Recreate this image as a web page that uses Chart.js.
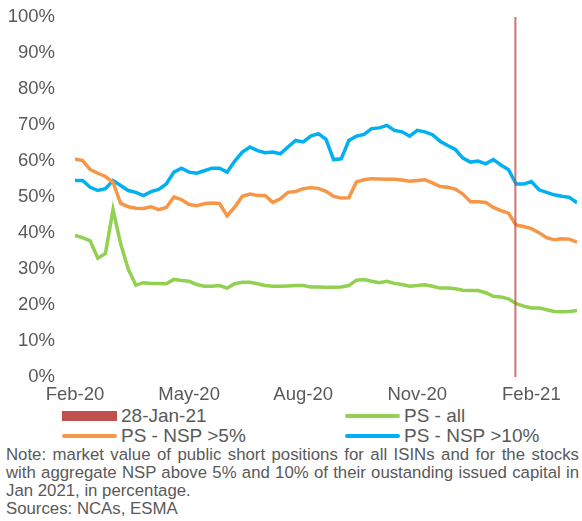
<!DOCTYPE html>
<html lang="en">

<head>
    <meta charset="UTF-8" />
    <title>Public short positions</title>
    <script src="https://cdn.jsdelivr.net/npm/chart.js"></script>

    <style>
        body {
            margin: 0;
            background: #ffffff;
            font-family: "Liberation Sans", Arial, sans-serif;
            color: #595959;
        }

        .wrap {
            width: 582px;
            height: 521px;
            overflow: hidden;
        }

        .chart-box {
            position: relative;
            width: 582px;
            height: 406px;
        }

        #legend {
            display: grid;
            grid-template-columns: 283px 299px;
            font-size: 19px;
            line-height: 20px;
        }

        .item {
            display: flex;
            align-items: center;
            height: 20px;
            white-space: nowrap;
            padding-left: 62px;
        }

        .swatch {
            display: inline-block;
            width: 55px;
            margin-right: 4px;
        }

        .note {
            padding-left: 6px;
            width: 573px;
            font-size: 16.8px;
            line-height: 18px;
            white-space: nowrap;
        }

        .note .j {
            text-align: justify;
            text-align-last: justify;
        }
    </style>
</head>

<body>
    <div class="wrap">
        <div class="chart-box">
            <canvas id="lineChart"></canvas>
        </div>
        <div id="legend"></div>
        <div class="note">
            <div class="j">Note: market value of public short positions for all ISINs and for the stocks</div>
            <div class="j">with aggregate NSP above 5% and 10% of their oustanding issued capital in</div>
            <div>Jan 2021, in percentage.</div>
            <div>Sources: NCAs, ESMA</div>
        </div>
    </div>

    <script>
        // x position in months after Feb-20
        const months = [0, 0.2, 0.4, 0.6, 0.8, 1, 1.2, 1.4, 1.6, 1.8, 2, 2.2, 2.4, 2.6, 2.8,
            3, 3.2, 3.4, 3.6, 3.8, 4, 4.2, 4.4, 4.6, 4.8, 5, 5.2, 5.4, 5.6, 5.8,
            6, 6.2, 6.4, 6.6, 6.8, 7, 7.2, 7.4, 7.6, 7.8, 8, 8.2, 8.4, 8.6, 8.8,
            9, 9.2, 9.4, 9.6, 9.8, 10, 10.2, 10.4, 10.6, 10.8, 11, 11.2, 11.4, 11.6, 11.8,
            12, 12.2, 12.4, 12.6, 12.8, 13, 13.2];

        const tickPos = [0, 3, 6, 9, 12];
        const tickLabels = ["Feb-20", "May-20", "Aug-20", "Nov-20", "Feb-21"];

        const markerLabel = "28-Jan-21";
        const markerPos = 11.58;
        const markerRange = [0, 100];

        const psAll = [39.3, 38.7, 37.8, 33.0, 34.3, 46.5, 37.0, 30.0, 25.5, 26.2, 26.0, 26.0, 25.9, 27.1, 26.8,
            26.6, 25.7, 25.2, 25.2, 25.4, 24.7, 25.9, 26.3, 26.3, 25.9, 25.4, 25.2, 25.2, 25.3, 25.4,
            25.4, 25.0, 25.0, 24.9, 24.9, 25.0, 25.4, 26.9, 27.1, 26.6, 26.2, 26.6, 26.0, 25.7, 25.2,
            25.4, 25.6, 25.2, 24.7, 24.7, 24.5, 24.1, 24.0, 24.0, 23.4, 22.4, 22.2, 21.7, 20.4, 19.7,
            19.2, 19.2, 18.7, 18.2, 18.1, 18.2, 18.5];

        const psNsp5 = [60.6, 60.1, 57.6, 56.6, 55.7, 54.1, 48.2, 47.3, 46.9, 46.8, 47.3, 46.5, 47.1, 50.0, 49.3,
            47.9, 47.6, 48.1, 48.3, 48.2, 44.8, 47.2, 50.2, 50.8, 50.4, 50.4, 48.5, 49.5, 51.3, 51.5,
            52.3, 52.6, 52.4, 51.6, 50.2, 49.7, 49.8, 54.2, 54.8, 55.1, 55.0, 54.9, 54.9, 54.7, 54.4,
            54.6, 54.8, 53.9, 52.9, 52.7, 52.2, 50.8, 48.7, 48.7, 48.5, 47.1, 46.2, 45.5, 42.2, 41.8,
            41.2, 40.1, 38.7, 38.1, 38.4, 38.3, 37.5];

        const psNsp10 = [54.6, 54.6, 52.7, 51.8, 52.3, 54.6, 53.2, 51.8, 51.3, 50.4, 51.5, 52.1, 53.6, 56.9, 58.0,
            56.9, 56.6, 57.3, 58.0, 58.0, 56.9, 60.0, 62.5, 63.9, 62.9, 62.3, 62.5, 62.0, 63.9, 65.7,
            65.3, 66.9, 67.6, 66.0, 60.4, 60.6, 65.7, 66.9, 67.4, 69.0, 69.2, 69.9, 68.5, 68.1, 66.9,
            68.5, 68.1, 67.3, 65.5, 64.3, 63.2, 60.8, 59.7, 60.0, 59.2, 60.4, 58.9, 57.6, 53.6, 53.6,
            54.3, 52.0, 51.3, 50.6, 50.2, 49.9, 48.4];

        const toPoints = vals => vals.map((v, i) => ({ x: months[i], y: v }));

        Chart.defaults.font.family = "'Liberation Sans', Arial, sans-serif";
        Chart.defaults.color = "#595959";

        const datasets = [
            {
                label: markerLabel,
                data: markerRange.map(v => ({ x: markerPos, y: v })),
                borderColor: "rgba(192,80,77,0.8)",
                backgroundColor: "#c0504d",
                borderWidth: 2,
                pointRadius: 0,
                isBox: true
            },
            {
                label: "PS - all",
                data: toPoints(psAll),
                borderColor: "#92d050",
                borderWidth: 3.5,
                pointRadius: 0
            },
            {
                label: "PS - NSP >5%",
                data: toPoints(psNsp5),
                borderColor: "#f79646",
                borderWidth: 3.5,
                pointRadius: 0
            },
            {
                label: "PS - NSP >10%",
                data: toPoints(psNsp10),
                borderColor: "#00b0f0",
                borderWidth: 3.5,
                pointRadius: 0
            }
        ];

        const chart = new Chart(document.getElementById("lineChart"), {
            type: "line",
            data: { datasets: datasets },
            options: {
                responsive: true,
                maintainAspectRatio: false,
                animation: false,
                layout: { padding: { top: 17, right: 5, left: 0, bottom: 0 } },
                scales: {
                    x: {
                        type: "linear",
                        min: 0,
                        max: 13.2,
                        grid: { display: false, drawTicks: false },
                        border: { display: false },
                        afterBuildTicks: s => { s.ticks = tickPos.map(v => ({ value: v })); },
                        afterFit: s => { s.height = 29; },
                        ticks: {
                            autoSkip: false,
                            maxRotation: 0,
                            padding: 7,
                            font: { size: 18.5 },
                            callback: v => tickLabels[tickPos.indexOf(v)]
                        }
                    },
                    y: {
                        min: 0,
                        max: 100,
                        grid: { display: false, drawTicks: false },
                        border: { display: false },
                        // fixed width; drop the extra top/bottom room v4 adds for tick padding
                        afterFit: s => { s.width = 75; s.paddingTop = 0; s.paddingBottom = 0; },
                        ticks: {
                            stepSize: 10,
                            padding: 20,
                            font: { size: 18.5 },
                            callback: v => v + "%"
                        }
                    }
                },
                plugins: {
                    legend: { display: false },
                    tooltip: { enabled: false }
                }
            }
        });

        // html legend, two columns like the original
        const legendEl = document.getElementById("legend");
        chart.data.datasets.forEach(ds => {
            const item = document.createElement("div");
            item.className = "item";
            const sw = document.createElement("span");
            sw.className = "swatch";
            if (ds.isBox) {
                sw.style.height = "10px";
                sw.style.background = ds.backgroundColor;
            } else {
                sw.style.height = "4px";
                sw.style.borderRadius = "2px";
                sw.style.background = ds.borderColor;
            }
            item.appendChild(sw);
            item.appendChild(document.createTextNode(ds.label));
            legendEl.appendChild(item);
        });
    </script>
</body>

</html>
